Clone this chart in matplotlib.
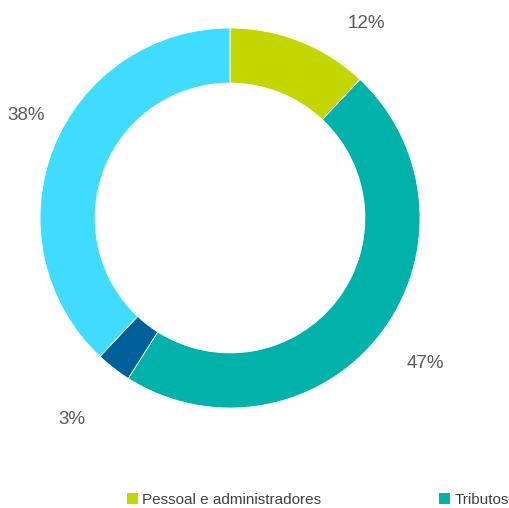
import matplotlib
matplotlib.use("Agg")
import matplotlib.pyplot as plt
from matplotlib.patches import Patch

categories = ["Pessoal e administradores", "Tributos", "Outros A", "Outros B"]
values = [12, 47, 3, 38]
labels = ["12%", "47%", "3%", "38%"]
colors = ["#c4d600", "#00b2a9", "#00609a", "#3fdcff"]

FONT = ["Liberation Sans", "DejaVu Sans"]
W, H = 509, 508
fig = plt.figure(figsize=(W / 100, H / 100), dpi=100)
cx, cy, R = 230, 218, 190
ax = fig.add_axes([(cx - R) / W, (H - cy - R) / H, 2 * R / W, 2 * R / H])
wedges, texts = ax.pie(values, colors=colors, startangle=90, counterclock=False,
                       radius=1.0, labels=labels, labeldistance=1.25,
                       wedgeprops=dict(width=0.29, edgecolor="white", linewidth=0.6),
                       textprops=dict(color="#595959", fontsize=13.5, family=FONT))
ax.set_xlim(-1, 1)
ax.set_ylim(-1, 1)
ax.set_aspect("equal")
ax.axis("off")

# label positions (pixel -> data)
label_px = [(366, 23), (425, 363), (72, 419), (26, 116)]
for t, (px, py) in zip(texts, label_px):
    t.set_position(((px - cx) / R, (cy - py) / R))
    t.set_ha("center")
    t.set_va("center")

leg_x = [127, 439]
for i, lx in enumerate(leg_x):
    leg = fig.legend([Patch(facecolor=colors[i])], [categories[i]], loc="center left",
                     bbox_to_anchor=(lx / W, 1 - 500 / H), frameon=False,
                     handlelength=0.7, handleheight=0.7, handletextpad=0.3,
                     borderaxespad=0, borderpad=0,
                     prop=dict(family=FONT, size=11))
    for t in leg.get_texts():
        t.set_color("#404040")

fig.savefig("out.png", dpi=100)
